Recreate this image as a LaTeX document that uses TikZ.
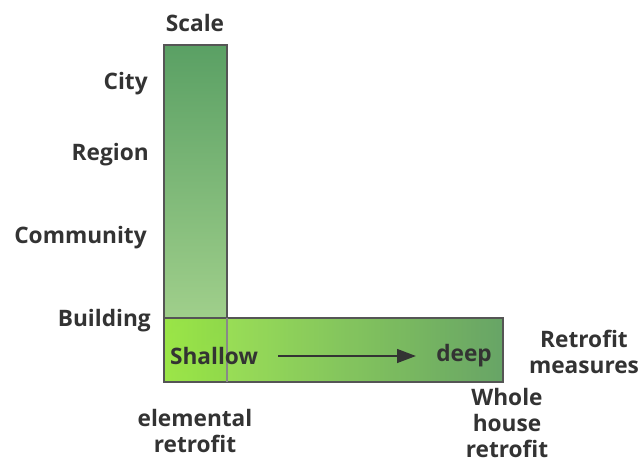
\documentclass[tikz,border=0pt]{standalone}
\usepackage{fontspec}
\setmainfont{Open Sans}
\usepackage{tikz}
\usetikzlibrary{positioning, arrows.meta}
\definecolor{ink}{HTML}{333333}
\definecolor{edge}{HTML}{555555}
\definecolor{leaf}{HTML}{5AA064}
\definecolor{pale}{HTML}{B0DA94}
\definecolor{lime}{HTML}{9AE840}
\definecolor{moss}{HTML}{579A55}

\begin{document}
\begin{tikzpicture}[
  x=0.75pt, y=-0.75pt,
  font=\bfseries\fontsize{17}{19.5}\selectfont,
  every node/.style={align=center, text=ink},
  lbl/.style={inner sep=0pt, anchor=east},
  bar/.style={draw=edge, line width=1.2pt},
  arr/.style={-{Triangle[length=5mm, width=3.6mm]}, line width=1.8pt, draw=ink,
              shorten <=15pt, shorten >=15pt}
]
  \useasboundingbox (0,0) rectangle (638,464);

  % the two bars
  \draw[bar, top color=leaf, bottom color=pale] (164,45) rectangle (227,382);
  \draw[bar, left color=lime, right color=moss, fill opacity=0.9] (164,318) rectangle (503,382);
  \draw[edge!70, line width=1pt] (227,318) -- (227,382);

  % scale axis
  \node (scale) at (195,23) {Scale};
  \node[lbl] (city) at (148,84) {City};
  \node[lbl] (region) at (149,155) {Region};
  \node[lbl] (community) at (147,238) {Community};
  \node[lbl] (building) at (151,321) {Building};

  % retrofit axis
  \node[inner sep=0pt] (shallow) at (214,356) {Shallow};
  \node[inner sep=0pt] (deep) at (464,356) {deep};
  \draw[arr] (shallow) -- (deep);
  \node (measures) at (584,352) {Retrofit\\measures};
  \node (whole) at (507,423) {Whole\\house\\retrofit};
  \node (elemental) at (195,431) {elemental\\retrofit};
\end{tikzpicture}
\end{document}
